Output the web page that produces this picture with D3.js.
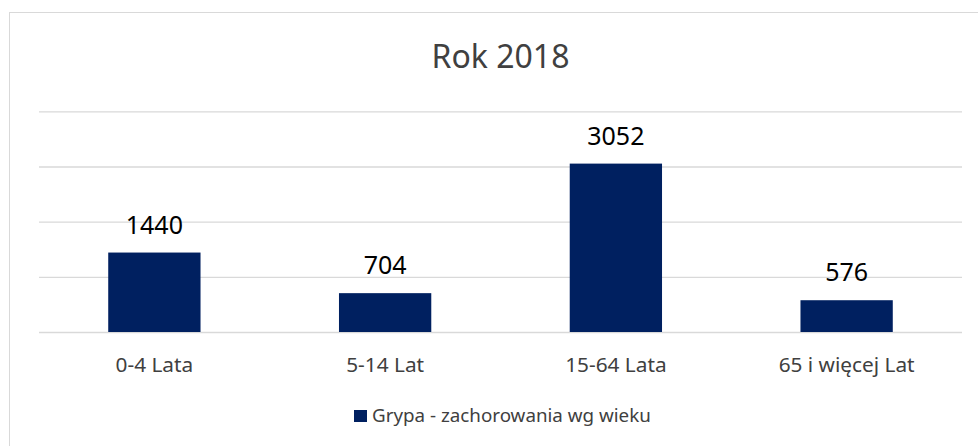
<!DOCTYPE html>
<html>
<head>
<meta charset="utf-8">
<script src="https://cdn.jsdelivr.net/npm/d3@7"></script>
<style>
  body { margin: 0; background: #fff; }
  svg { display: block; font-family: "Noto Sans", "Open Sans", sans-serif; }
</style>
</head>
<body>
<svg id="chart" width="978" height="446"></svg>
<script>
const width = 978;
const height = 446;

// dane
const categories = ["0-4 Lata", "5-14 Lat", "15-64 Lata", "65 i więcej Lat"];
const values = [1440, 704, 3052, 576];
const yTicks = [0, 1000, 2000, 3000, 4000];
const title = "Rok 2018";
const seriesName = "Grypa - zachorowania wg wieku";

const barColor = "#002060";
const gridColor = "#d9d9d9";
const textColor = "#404040";

const plotLeft = 39, plotRight = 962, plotTop = 111.3, plotBottom = 332;

let svg = d3.select("#chart");

// ramka wykresu (prawa i dolna krawędź poza kadrem)
svg.append("rect")
  .attr("x", 9.5)
  .attr("y", 12.5)
  .attr("width", 1200)
  .attr("height", 800)
  .attr("fill", "#fff")
  .attr("stroke", gridColor)
  .attr("stroke-width", 1);

let x = d3.scaleBand()
  .domain(categories)
  .range([plotLeft, plotRight])
  .paddingInner(0.6)
  .paddingOuter(0.3);

let y = d3.scaleLinear()
  .domain([0, 4000])
  .range([plotBottom, plotTop]);

// linie siatki
let grid = svg.append("g")
  .attr("transform", `translate(${plotLeft},0)`)
  .call(d3.axisLeft(y).tickValues(yTicks).tickSize(-(plotRight - plotLeft)).tickFormat(""));
grid.select(".domain").remove();
grid.selectAll(".tick line").attr("stroke", gridColor).attr("stroke-width", 1.3);

// słupki
svg.append("g")
  .selectAll("rect")
  .data(values)
  .enter()
  .append("rect")
  .attr("x", function (d, i) { return x(categories[i]); })
  .attr("y", function (d) { return y(d); })
  .attr("width", x.bandwidth())
  .attr("height", function (d) { return y(0) - y(d); })
  .attr("fill", barColor);

// etykiety wartości
svg.append("g")
  .selectAll("text")
  .data(values)
  .enter()
  .append("text")
  .attr("x", function (d, i) { return x(categories[i]) + x.bandwidth() / 2; })
  .attr("y", function (d) { return y(d) - 19; })
  .attr("text-anchor", "middle")
  .attr("font-size", 25)
  .attr("fill", "#000")
  .text(function (d) { return d; });

// oś X
let xAxis = svg.append("g")
  .attr("transform", `translate(0,${plotBottom})`)
  .call(d3.axisBottom(x).tickSize(0).tickPadding(0));
xAxis.select(".domain").remove();
xAxis.selectAll(".tick text")
  .attr("dy", 0)
  .attr("y", 40)
  .attr("font-size", 20.8)
  .attr("font-family", "Noto Sans, Open Sans, sans-serif")
  .attr("fill", textColor);

// tytuł
svg.append("text")
  .attr("x", (plotLeft + plotRight) / 2)
  .attr("y", 68)
  .attr("text-anchor", "middle")
  .attr("font-size", 32)
  .attr("fill", textColor)
  .text(title);

// legenda
svg.append("rect")
  .attr("x", 354)
  .attr("y", 410)
  .attr("width", 13)
  .attr("height", 12)
  .attr("fill", barColor);
svg.append("text")
  .attr("x", 372)
  .attr("y", 422)
  .attr("font-size", 18.8)
  .attr("fill", textColor)
  .text(seriesName);
</script>
</body>
</html>
